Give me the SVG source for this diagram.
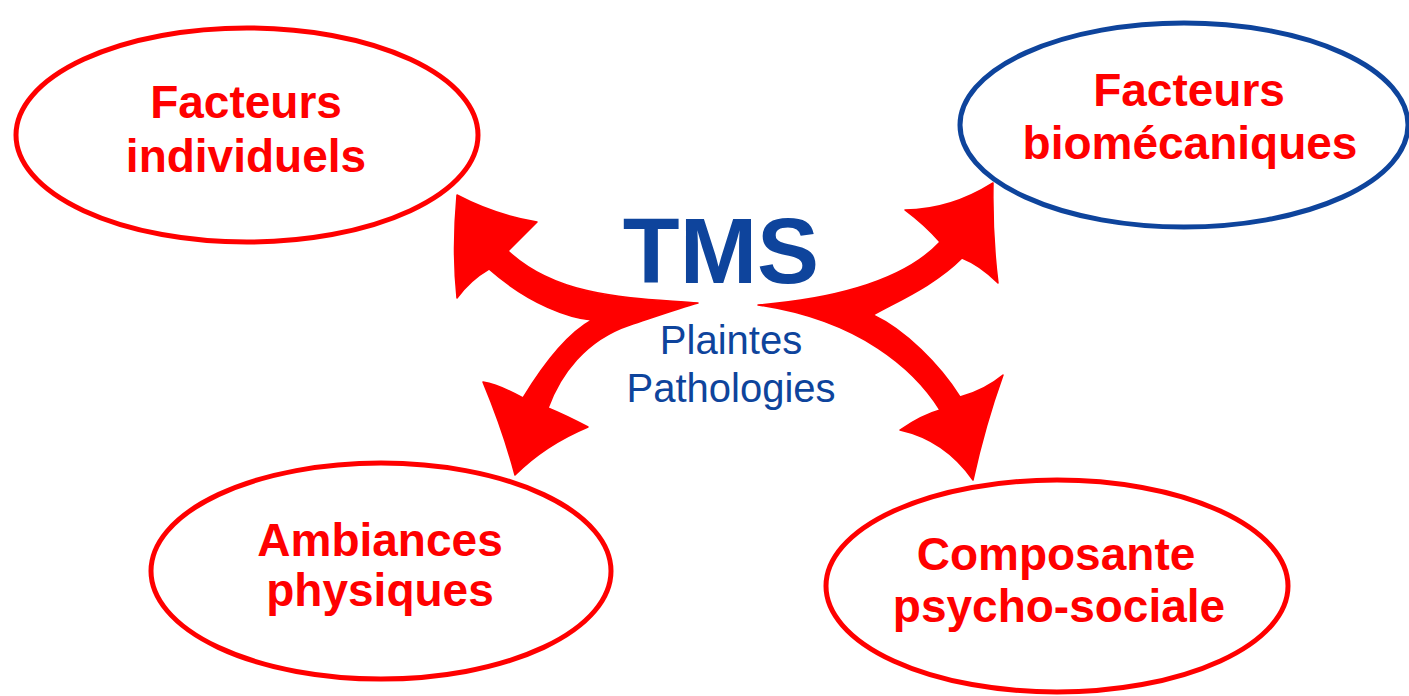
<svg xmlns="http://www.w3.org/2000/svg" width="1409" height="696" viewBox="0 0 1409 696">
<style>
.oval{fill:#fff;stroke-width:5}
.red{stroke:#ff0000}
.blue{stroke:#0e449c}
.lbl{font-family:"Liberation Sans",Arial,sans-serif;font-weight:bold;font-size:46px;fill:#ff0000;text-anchor:middle}
.ctr{font-family:"Liberation Sans",Arial,sans-serif;fill:#0e449c;text-anchor:middle}
.arrow{fill:#ff0000;stroke:#ff0000;stroke-width:1.5;stroke-linejoin:round}
</style>
<rect width="1409" height="696" fill="#fff"/>
<g id="node-individuels">
<ellipse class="oval red" cx="247" cy="135" rx="231" ry="107"/>
<text class="lbl" x="246" y="118">Facteurs</text>
<text class="lbl" x="246" y="172">individuels</text>
</g>
<g id="node-biomecaniques">
<ellipse class="oval blue" cx="1184" cy="125" rx="224" ry="102"/>
<text class="lbl" x="1189" y="106">Facteurs</text>
<text class="lbl" x="1190" y="159">biomécaniques</text>
</g>
<g id="node-ambiances">
<ellipse class="oval red" cx="381" cy="571" rx="230" ry="108"/>
<text class="lbl" x="380" y="556" font-size="45">Ambiances</text>
<text class="lbl" x="380" y="606" font-size="45">physiques</text>
</g>
<g id="node-psychosociale">
<ellipse class="oval red" cx="1057" cy="586" rx="231" ry="106"/>
<text class="lbl" x="1056" y="570">Composante</text>
<text class="lbl" x="1059" y="622">psycho-sociale</text>
</g>
<g id="node-tms">
<text class="ctr" x="721" y="283" font-size="93" font-weight="bold">TMS</text>
<text class="ctr" x="731" y="354" font-size="40">Plaintes</text>
<text class="ctr" x="731" y="402" font-size="40">Pathologies</text>
</g>
<g id="connectors">
<path class="arrow" d="M698,303 C640,298 560,300 508,251 L537,222 Q495,215 457,195 Q452,250 457,298 Q470,280 489,269 C530,305 570,318 592,320 C565,335 540,370 523,398 Q500,385 483,382 Q503,430 515,475 Q545,445 588,427 Q565,415 548,408 C560,375 585,340 630,325 C660,315 680,308 698,303 Z"/>
<path class="arrow" d="M758,305 C820,300 900,285 940,242 Q925,225 905,210 Q950,210 993,183 Q992,235 998,283 Q980,265 962,258 C935,285 900,300 873,315 C905,330 940,365 960,397 Q985,390 1003,375 Q985,425 973,480 Q945,440 900,430 Q922,415 940,410 C915,370 860,320 758,305 Z"/>
</g>
</svg>
